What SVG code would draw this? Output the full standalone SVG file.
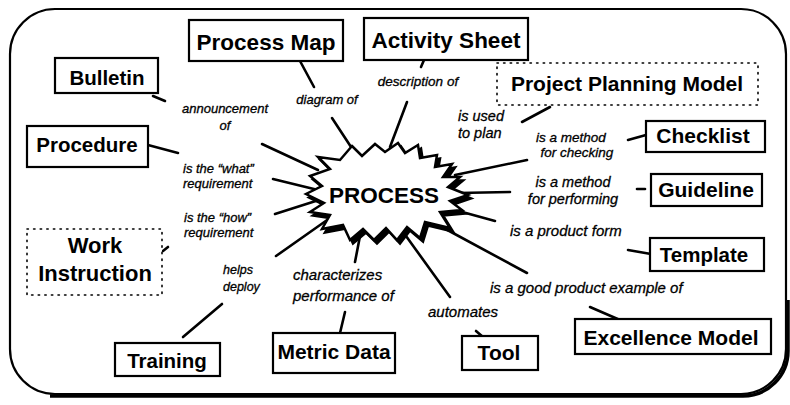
<svg xmlns="http://www.w3.org/2000/svg" width="790" height="405" viewBox="0 0 790 405">
<style>
.box{fill:#fff;stroke:#000;stroke-width:2.2}
.dot{fill:#fff;stroke:#000;stroke-width:1.6;stroke-dasharray:1.4 5.2;stroke-linecap:round}
.bt{font-family:"Liberation Sans",Arial,Helvetica,sans-serif;font-weight:bold;text-anchor:middle;fill:#000}
.lb{font-family:"Liberation Sans",Arial,Helvetica,sans-serif;font-style:italic;fill:#000;stroke:#000;stroke-width:0.3}
.ln{stroke:#000;stroke-width:2.6;stroke-linecap:round;fill:none}
</style>
<rect x="0" y="0" width="790" height="405" fill="#fff"/>
<g id="frame">
<rect x="10" y="9" width="776" height="385" rx="45" fill="#fff" stroke="#000" stroke-width="2.2"/>
<path d="M788,300 L788,351 A45,45 0 0 1 743,396 L50,396" fill="none" stroke="#000" stroke-width="3.5"/>
</g>
<g id="connectors">
<line class="ln" x1="153" y1="96" x2="165" y2="101"/>
<line class="ln" x1="262" y1="144" x2="318" y2="170"/>
<line class="ln" x1="148" y1="145" x2="178" y2="153"/>
<line class="ln" x1="273" y1="179" x2="318" y2="190"/>
<line class="ln" x1="275" y1="214" x2="322" y2="199"/>
<line class="ln" x1="163" y1="251" x2="168" y2="247"/>
<line class="ln" x1="276" y1="256" x2="330" y2="218"/>
<line class="ln" x1="183" y1="337" x2="222" y2="304"/>
<line class="ln" x1="355" y1="262" x2="360" y2="236"/>
<line class="ln" x1="340" y1="333" x2="345" y2="312"/>
<line class="ln" x1="406" y1="236" x2="450" y2="297"/>
<line class="ln" x1="476" y1="331" x2="483" y2="337"/>
<line class="ln" x1="440" y1="226" x2="527" y2="273"/>
<line class="ln" x1="590" y1="307" x2="620" y2="320"/>
<line class="ln" x1="455" y1="210" x2="495" y2="221"/>
<line class="ln" x1="628" y1="250" x2="651" y2="254"/>
<line class="ln" x1="458" y1="193" x2="510" y2="192"/>
<line class="ln" x1="637" y1="189" x2="645" y2="189"/>
<line class="ln" x1="455" y1="175" x2="527" y2="160"/>
<line class="ln" x1="628" y1="140" x2="646" y2="135"/>
<line class="ln" x1="522" y1="122" x2="550" y2="107"/>
<line class="ln" x1="390" y1="147" x2="407" y2="102"/>
<line class="ln" x1="424" y1="60" x2="421" y2="67"/>
<line class="ln" x1="300" y1="61" x2="314" y2="87"/>
<line class="ln" x1="332" y1="118" x2="353" y2="150"/>
</g>
<g id="process">
<polygon transform="translate(3,3.5)" fill="#000" stroke="#000" stroke-width="2.5" stroke-linejoin="miter" points="352,146 362,156 375,144 385,152 398,143 405,153 418,145 420,158 437,155 435,167 452,164 443,177 460,177 448,187 468,195 450,201 462,210 440,212 450,228 425,222 420,238 407,227 397,240 386,228 374,240 363,229 350,240 343,225 322,229 330,215 310,212 324,203 306,194 322,186 310,176 330,169 318,157 340,160"/>
<polygon fill="#fff" stroke="#000" stroke-width="2.5" stroke-linejoin="miter" points="352,146 362,156 375,144 385,152 398,143 405,153 418,145 420,158 437,155 435,167 452,164 443,177 460,177 448,187 468,195 450,201 462,210 440,212 450,228 425,222 420,238 407,227 397,240 386,228 374,240 363,229 350,240 343,225 322,229 330,215 310,212 324,203 306,194 322,186 310,176 330,169 318,157 340,160"/>
<text class="bt" x="384" y="203" font-size="22.5">PROCESS</text>
</g>
<g id="process-map"><rect class="box" x="189" y="20" width="154" height="41"/><text class="bt" x="266" y="50" font-size="22.5">Process Map</text></g>
<g id="activity-sheet"><rect class="box" x="364" y="18" width="164" height="42"/><text class="bt" x="446" y="48" font-size="22.5">Activity Sheet</text></g>
<g id="bulletin"><rect class="box" x="55" y="58" width="103" height="35"/><text class="bt" x="107" y="85" font-size="20.5">Bulletin</text></g>
<g id="procedure"><rect class="box" x="27" y="126" width="121" height="41"/><text class="bt" x="87" y="152" font-size="20.5">Procedure</text></g>
<g id="project-planning-model"><rect class="dot" x="497" y="63" width="261" height="42"/><text class="bt" x="627" y="91" font-size="21">Project Planning Model</text></g>
<g id="checklist"><rect class="box" x="646" y="121" width="119" height="31"/><text class="bt" x="703" y="143" font-size="21">Checklist</text></g>
<g id="guideline"><rect class="box" x="651" y="174" width="111" height="32"/><text class="bt" x="706" y="197" font-size="21">Guideline</text></g>
<g id="template"><rect class="box" x="650" y="238" width="114" height="33"/><text class="bt" x="704" y="262" font-size="20.5">Template</text></g>
<g id="excellence-model"><rect class="box" x="575" y="319" width="196" height="35"/><text class="bt" x="671" y="345" font-size="21">Excellence Model</text></g>
<g id="tool"><rect class="box" x="462" y="336" width="76" height="34"/><text class="bt" x="499" y="360" font-size="21">Tool</text></g>
<g id="metric-data"><rect class="box" x="273" y="333" width="122" height="40"/><text class="bt" x="334" y="359" font-size="21">Metric Data</text></g>
<g id="training"><rect class="box" x="115" y="343" width="105" height="33"/><text class="bt" x="167" y="368" font-size="20.5">Training</text></g>
<g id="work-instruction"><rect class="dot" x="27" y="229" width="135" height="66"/><text class="bt" x="95" y="253" font-size="22">Work</text><text class="bt" x="95" y="281" font-size="22">Instruction</text></g>
<g id="labels">
<text class="lb" x="225" y="113" font-size="13" text-anchor="middle">announcement</text>
<text class="lb" x="225" y="130" font-size="13" text-anchor="middle">of</text>
<text class="lb" x="327" y="104" font-size="13" text-anchor="middle">diagram of</text>
<text class="lb" x="418" y="86" font-size="13.5" text-anchor="middle">description of</text>
<text class="lb" x="458" y="121" font-size="14.5">is used</text>
<text class="lb" x="458" y="138" font-size="14.5">to plan</text>
<text class="lb" x="571" y="142" font-size="13.5" text-anchor="middle">is a method</text>
<text class="lb" x="577" y="157" font-size="13.5" text-anchor="middle">for checking</text>
<text class="lb" x="573" y="187" font-size="14.5" text-anchor="middle">is a method</text>
<text class="lb" x="573" y="204" font-size="14.5" text-anchor="middle">for performing</text>
<text class="lb" x="510" y="236" font-size="15">is a product form</text>
<text class="lb" x="490" y="293" font-size="15">is a good product example of</text>
<text class="lb" x="428" y="317" font-size="15">automates</text>
<text class="lb" x="293" y="280" font-size="15">characterizes</text>
<text class="lb" x="293" y="301" font-size="15">performance of</text>
<text class="lb" x="223" y="274" font-size="12.5">helps</text>
<text class="lb" x="223" y="291" font-size="12.5">deploy</text>
<text class="lb" x="184" y="222" font-size="13">is the “how”</text>
<text class="lb" x="184" y="237" font-size="13">requirement</text>
<text class="lb" x="183" y="173" font-size="13">is the “what”</text>
<text class="lb" x="183" y="188" font-size="13">requirement</text>
</g>
</svg>
